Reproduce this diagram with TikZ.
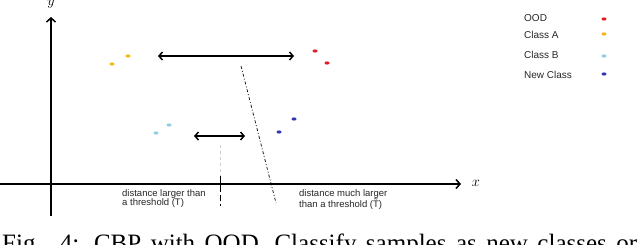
\documentclass[tikz,border=0pt]{standalone}
\usepackage{fontspec}
\setmainfont{Liberation Serif}
\setsansfont{Liberation Sans}
\usetikzlibrary{arrows.meta,shapes.geometric}

\begin{document}
\begin{tikzpicture}[x=1pt, y=-1pt,
    axis/.style={line width=1.8pt, -{Straight Barb[length=4pt,width=9pt,line width=1.5pt]}},
    gap/.style={line width=1.5pt, {Straight Barb[length=3.5pt,width=8pt]}-{Straight Barb[length=3.5pt,width=8pt]}},
    sample/.style={ellipse, fill=#1, inner sep=0pt, minimum width=5pt, minimum height=3.2pt},
    note/.style={font=\sffamily\fontsize{9.5}{9.5}\selectfont, text=black!85, align=left, inner sep=0pt},
    legend/.style={font=\sffamily\fontsize{10}{10}\selectfont, text=black!85, anchor=west, inner sep=0pt}]
    \definecolor{oodred}{HTML}{E01B24}
    \definecolor{classa}{HTML}{F5B50F}
    \definecolor{classb}{HTML}{8FCFE3}
    \definecolor{newblue}{HTML}{3535B0}

    \useasboundingbox (0,0) rectangle (640,244);
    \clip (0,0) rectangle (640,244);

    % Axes
    \coordinate (yfoot) at (51,216);
    \coordinate (ytop) at (51,17);
    \coordinate (xfoot) at (0,184);
    \coordinate (xtop) at (461,184);
    \draw[axis] (yfoot) -- (ytop);
    \draw[axis] (xfoot) -- (xtop);
    \node[font=\Large] (ylab) at (51,4) {$y$};
    \node[font=\Large] (xlab) at (476,183) {$x$};

    % Samples
    \node[sample=classa] (a1) at (112,64) {};
    \node[sample=classa] (a2) at (128,56) {};
    \node[sample=oodred] (o1) at (315,51) {};
    \node[sample=oodred] (o2) at (327,63) {};
    \node[sample=classb] (b1) at (156,133) {};
    \node[sample=classb] (b2) at (169,125) {};
    \node[sample=newblue] (n1) at (279,132) {};
    \node[sample=newblue] (n2) at (294,119) {};

    % Distances
    \coordinate (farL) at (158,56);
    \coordinate (farR) at (294,56);
    \coordinate (nearL) at (194,136);
    \coordinate (nearR) at (245,136);
    \draw[gap] (farL) -- (farR);
    \draw[gap] (nearL) -- (nearR);

    % Threshold marks
    \coordinate (tTop) at (220,145);
    \coordinate (tMid) at (220,176);
    \coordinate (tEnd) at (220,206);
    \draw[black!20, dashed, line width=0.6pt] (tTop) -- (tMid);
    \draw[line width=0.9pt, dash pattern=on 16pt off 3pt on 6pt off 3pt on 6pt] (tMid) -- (tEnd);
    \coordinate (sepTop) at (241,66);
    \coordinate (sepEnd) at (276,203);
    \draw[line width=0.7pt, dash pattern=on 3pt off 2pt on 1pt off 2pt] (sepTop) -- (sepEnd);

    \node[note, anchor=north west] (near) at (122,189) {distance larger than\\a threshold (T)};
    \node[note, anchor=north west] (far) at (299,189) {distance much larger\\than a threshold (\~{T})};

    % Legend
    \node[legend] (lood) at (524,18) {OOD};
    \node[legend] (la) at (524,35) {Class A};
    \node[legend] (lb) at (524,55) {Class B};
    \node[legend] (ln) at (524,75) {New Class};
    \node[sample=oodred] (do) at (604,19) {};
    \node[sample=classa] (da) at (604,34) {};
    \node[sample=classb] (db) at (604,56) {};
    \node[sample=newblue] (dn) at (604,74) {};

    % Caption
    \node[anchor=base west, inner sep=0pt, font=\fontsize{25}{25}\selectfont] (cap) at (2,251)
        {\makebox[635pt][s]{Fig. 4: CBP with OOD. Classify samples as new classes or}};
\end{tikzpicture}
\end{document}
